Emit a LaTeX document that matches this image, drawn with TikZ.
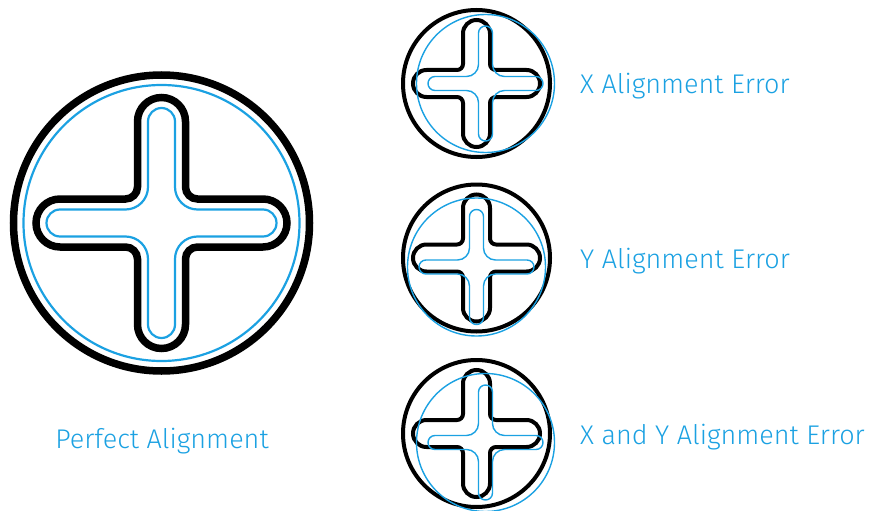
\documentclass[tikz,border=0pt]{standalone}
\usepackage{fontspec}
\setmainfont{Fira Sans}[UprightFont=* Light]
\usepackage{tikz}
\usetikzlibrary{positioning}

\definecolor{alignblue}{RGB}{27,161,226}

% plus shape with round ends: half length, half width, fillet radius
\newcommand{\crosspath}[3]{%
  (#2,#1-#2) arc[start angle=0,end angle=180,radius=#2]
  -- (-#2,#2+#3) arc[start angle=0,end angle=-90,radius=#3]
  -- (-#1+#2,#2) arc[start angle=90,end angle=270,radius=#2]
  -- (-#2-#3,-#2) arc[start angle=90,end angle=0,radius=#3]
  -- (-#2,-#1+#2) arc[start angle=180,end angle=360,radius=#2]
  -- (#2,-#2-#3) arc[start angle=180,end angle=90,radius=#3]
  -- (#1-#2,-#2) arc[start angle=-90,end angle=90,radius=#2]
  -- (#2+#3,#2) arc[start angle=270,end angle=180,radius=#3]
  -- cycle}

\begin{document}
\begin{tikzpicture}[x=1pt, y=-1pt,
  bigblack/.style={draw=black, line width=7.5pt},
  bigblue/.style={draw=alignblue, line width=2.2pt},
  smallblack/.style={draw=black, line width=4pt},
  smallblue/.style={draw=alignblue, line width=1.4pt},
  caption/.style={text=alignblue, font=\fontsize{27}{33}\selectfont, inner sep=0pt}]
\useasboundingbox (0,0) rectangle (873,511);

% perfect alignment
\begin{scope}[shift={(161.5,223)}]
\draw[bigblack] (0,0) circle[radius=148];
\draw[bigblue] (0,0) circle[radius=138];
\draw[bigblack] \crosspath{125.5}{24}{12};
\draw[bigblue] \crosspath{115}{13.5}{22.5};
\end{scope}
\node[caption, anchor=base] (perfect) at (162,448) {Perfect Alignment};

% x alignment error
\begin{scope}[shift={(476.5,83.5)}]
\draw[smallblack] (0,0) circle[radius=73.5];
\draw[smallblack] \crosspath{63.5}{13.5}{6};
\begin{scope}[shift={(9,0)}]
\draw[smallblue] (0,0) circle[radius=69];
\draw[smallblue] \crosspath{57.5}{7}{12};
\end{scope}
\end{scope}
\node[caption, anchor=base west] (xerr) at (580,93.5) {X Alignment Error};

% y alignment error
\begin{scope}[shift={(476.5,258)}]
\draw[smallblack] (0,0) circle[radius=73.5];
\draw[smallblack] \crosspath{63.5}{13.5}{6};
\begin{scope}[shift={(0,9)}]
\draw[smallblue] (0,0) circle[radius=69];
\draw[smallblue] \crosspath{57.5}{7}{12};
\end{scope}
\end{scope}
\node[caption, anchor=base west] (yerr) at (580,268.5) {Y Alignment Error};

% x and y alignment error
\begin{scope}[shift={(476.5,433.5)}]
\draw[smallblack] (0,0) circle[radius=73.5];
\draw[smallblack] \crosspath{63.5}{13.5}{6};
\begin{scope}[shift={(9,9)}]
\draw[smallblue] (0,0) circle[radius=69];
\draw[smallblue] \crosspath{57.5}{7}{12};
\end{scope}
\end{scope}
\node[caption, anchor=base west] (xyerr) at (580,444.5) {X and Y Alignment Error};
\end{tikzpicture}
\end{document}
